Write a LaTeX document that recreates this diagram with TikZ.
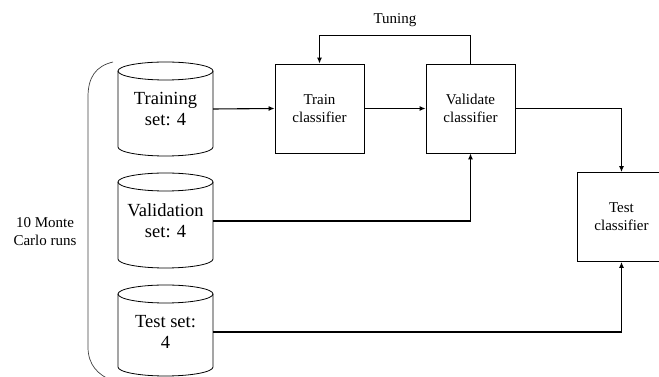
\documentclass[tikz,border=0pt]{standalone}
\usepackage{fontspec}
\setmainfont{Liberation Serif}
\usetikzlibrary{arrows.meta}
\tikzset{
  big/.style={font=\fontsize{18.5}{21}\selectfont, align=center, inner sep=0pt},
  small/.style={font=\fontsize{15}{18}\selectfont, align=center, inner sep=0pt},
  procbox/.style={draw, line width=0.8pt, minimum width=89pt, minimum height=89pt, small},
  cylbody/.style={minimum width=95pt, minimum height=60pt, big},
  cylline/.style={line width=0.8pt},
  conn/.style={line width=1.1pt, -{Latex[length=6pt,width=5pt]}},
}
\begin{document}
\begin{tikzpicture}[x=1pt,y=1pt]
\useasboundingbox (0,0) rectangle (659,377);
% cylinders
\draw[cylline] (165.5,306) ellipse (47.5 and 9);
\draw[cylline] (118,306) -- (118,230) arc (180:360:47.5 and 9) -- (213,306);
\node[cylbody] (trs) at (165.5,268) {Training\\set: 4};
\draw[cylline] (165.5,195) ellipse (47.5 and 9);
\draw[cylline] (118,195) -- (118,118) arc (180:360:47.5 and 9) -- (213,195);
\node[cylbody] (vas) at (165.5,156) {Validation\\set: 4};
\draw[cylline] (165.5,83) ellipse (47.5 and 9);
\draw[cylline] (118,83) -- (118,10) arc (180:360:47.5 and 9) -- (213,83);
\node[cylbody] (tes) at (165.5,45) {Test set:\\4};
% boxes
\node[procbox] (train) at (319.5,268.5) {Train\\classifier};
\node[procbox] (val) at (470.5,268.5) {Validate\\classifier};
\node[procbox] (test) at (621.5,160) {Test\\classifier};
% connectors
\draw[conn] (trs.east) -- (train.west);
\draw[conn] (train.east) -- (val.west);
\draw[conn] (val.north) -- ++(0,28) -| (train.north);
\node[small] (tuning) at (395,357) {Tuning};
\draw[conn] (val.east) -| (test.north);
\draw[conn] (vas.east) -| (val.south);
\draw[conn] (tes.east) -| (test.south);
% brace
\draw[line width=0.7pt, black!75] (113,315) .. controls (96,311) and (88,300) .. (88,280) -- (88,30) .. controls (88,12) and (98,2) .. (113,-4);
\node[small] (mc) at (45,145) {10 Monte\\Carlo runs};
\end{tikzpicture}
\end{document}
